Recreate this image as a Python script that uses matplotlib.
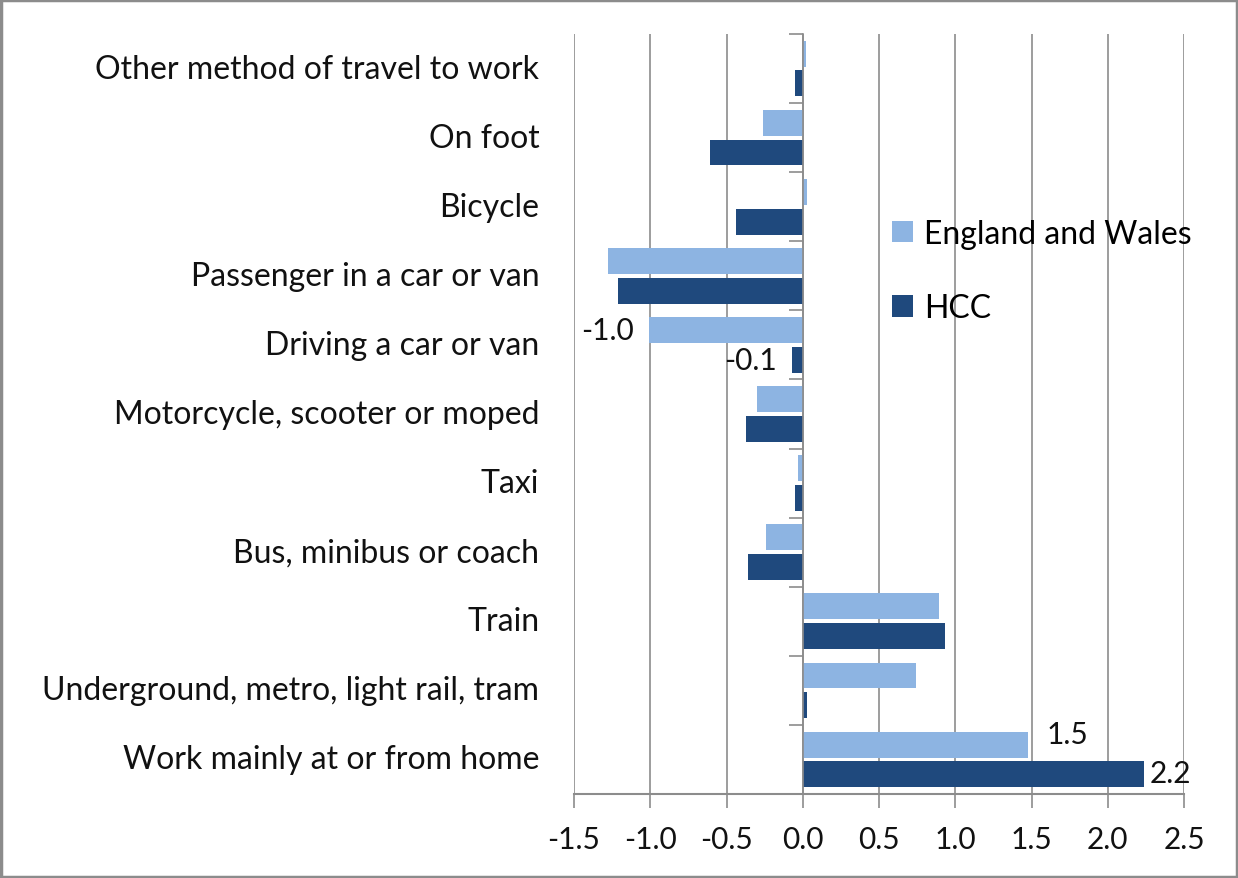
import numpy as np
import matplotlib; matplotlib.use('Agg')
import matplotlib.pyplot as plt
import matplotlib.transforms as mtransforms
from matplotlib.patches import Rectangle

plt.rcParams['font.family'] = ['Lato', 'DejaVu Sans']

# categories listed from top to bottom
categories = ['Other method of travel to work', 'On foot', 'Bicycle',
              'Passenger in a car or van', 'Driving a car or van',
              'Motorcycle, scooter or moped', 'Taxi', 'Bus, minibus or coach',
              'Train', 'Underground, metro, light rail, tram',
              'Work mainly at or from home']
england_wales = [0.02, -0.26, 0.03, -1.28, -1.01, -0.30, -0.03, -0.24, 0.89, 0.74, 1.48]
hcc = [-0.05, -0.61, -0.44, -1.21, -0.07, -0.37, -0.05, -0.36, 0.93, 0.03, 2.24]
xticks = [-1.5, -1.0, -0.5, 0.0, 0.5, 1.0, 1.5, 2.0, 2.5]

light = '#8db4e2'
dark = '#1f497d'
grey = '#8c8c8c'

fig = plt.figure(figsize=(12.38, 8.79), dpi=100)
ax = fig.add_axes([0.4637, 0.0956, 0.4927, 0.8646])

y = np.arange(len(categories))
h = 0.375; off = 0.215
ax.barh(y - off, england_wales, height=h, color=light, label='England and Wales', zorder=3)
ax.barh(y + off, hcc, height=h, color=dark, label='HCC', zorder=3)

ax.set_xlim(-1.5, 2.5)
ax.set_ylim(len(categories) - 0.5, -0.5)
ax.set_xticks(xticks)
ax.set_xticklabels([f'{v:.1f}' for v in xticks], fontsize=21.5, color='#111111')
ax.tick_params(axis='x', direction='out', length=10, color=grey, width=1.2, pad=12)
for v in xticks:
    ax.axvline(v, color=grey, lw=1.2, zorder=1)

# y axis sits at zero, ticks between categories
ax.spines['left'].set_position(('data', 0))
ax.spines['left'].set_color(grey)
ax.spines['left'].set_linewidth(1.2)
ax.spines['left'].set_zorder(4)
ax.spines['bottom'].set_color(grey)
ax.spines['bottom'].set_linewidth(1.5)
ax.spines['top'].set_visible(False)
ax.spines['right'].set_visible(False)
ax.set_yticks(np.arange(len(categories) + 1) - 0.5)
ax.set_yticklabels([])
ax.tick_params(axis='y', direction='out', length=10, color=grey, width=1.2)

trans = mtransforms.blended_transform_factory(ax.transAxes, ax.transData)
for i, c in enumerate(categories):
    ax.text(-0.057, i, c, transform=trans, ha='right', va='center', fontsize=23, color='#111111')

# data labels
lab = dict(va='center', fontsize=21.5, color='#111111')
ax.text(england_wales[4] - 0.1, 4 - off, f'{england_wales[4]:.1f}', ha='right', **lab)
ax.text(hcc[4] - 0.1, 4 + off, f'{hcc[4]:.1f}', ha='right', **lab)
ax.text(england_wales[10] + 0.12, 10 - off - 0.15, f'{england_wales[10]:.1f}', ha='left', **lab)
ax.text(hcc[10] + 0.035, 10 + off - 0.02, f'{hcc[10]:.1f}', ha='left', **lab)

ax.legend(loc='upper left', bbox_to_anchor=(0.474, 0.795), frameon=False, fontsize=23,
          handlelength=0.65, handleheight=0.65, handletextpad=0.35, labelspacing=1.4)

fig.patches.append(Rectangle((0.001, 0.001), 0.998, 0.998, transform=fig.transFigure,
                             fill=False, edgecolor=grey, lw=2.5))
fig.savefig('out.png', dpi=100)
